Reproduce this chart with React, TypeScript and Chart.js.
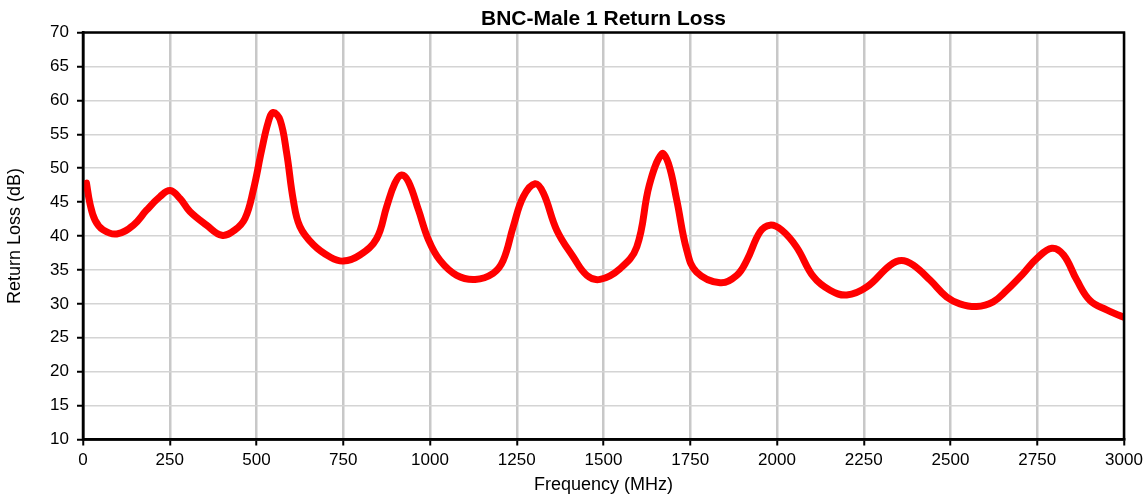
import React, { useEffect, useRef } from "react";
import { Chart, registerables } from "chart.js";

Chart.register(...registerables);

const chartTitle = "BNC-Male 1 Return Loss";
const xTitle = "Frequency (MHz)";
const yTitle = "Return Loss (dB)";

const freqMHz = [
  10, 20, 35, 58, 97, 145, 183, 222, 251, 280, 308, 356, 400, 438, 467, 491,
  515, 534, 548, 568, 587, 606, 625, 664, 712, 750, 798, 846, 875, 899, 918,
  938, 967, 996, 1029, 1077, 1130, 1182, 1211, 1240, 1269, 1303, 1327, 1365,
  1413, 1452, 1490, 1548, 1596, 1632, 1668, 1687, 1711, 1740, 1768,
  1836, 1884, 1913, 1951, 1980, 2013, 2056, 2105, 2153, 2201, 2259,
  2326, 2359, 2393, 2441, 2489, 2527, 2575, 2623, 2662, 2710, 2749, 2792,
  2826, 2864, 2902, 2950, 3000,
];

const returnLossDb = [
  47.8, 44.8, 42.3, 40.9, 40.3, 41.6, 43.8, 45.8, 46.7, 45.5, 43.6, 41.6,
  40.1, 40.9, 42.6, 46.8, 52.7, 56.8, 58.2, 57.1, 52.2, 45.3, 41.4, 38.7,
  36.9, 36.3, 37.2, 39.6, 44.3, 47.8, 49.0, 48.0, 43.8, 39.4, 36.4, 34.2,
  33.6, 34.5, 36.4, 41.4, 45.8, 47.7, 46.3, 40.9, 36.9, 34.2, 33.6, 35.2,
  38.4, 47.5, 52.1, 50.7, 45.3, 37.9, 34.7, 33.1, 34.2, 36.4, 40.6,
  41.6, 40.9, 38.4, 34.0, 32.0, 31.3, 32.5, 35.7, 36.4, 35.7, 33.5,
  31.0, 30.0, 29.6, 30.3, 32.0, 34.5, 36.7, 38.2, 37.2, 33.5, 30.5, 29.1,
  28.0,
];

const xTickMin = 0;
const xTickMax = 3000;
const xTickStep = 250;
const yTickMin = 10;
const yTickMax = 70;
const yTickStep = 5;

const FONT = '"Liberation Sans", Arial, Helvetica, sans-serif';

const frameBorder = {
  id: "frameBorder",
  afterDatasetsDraw(chart: any) {
    const { ctx, chartArea } = chart;
    ctx.save();
    ctx.strokeStyle = "#000";
    ctx.lineWidth = 2.5;
    ctx.strokeRect(
      chartArea.left,
      chartArea.top,
      chartArea.right - chartArea.left,
      chartArea.bottom - chartArea.top
    );
    ctx.restore();
  },
};

export default function App() {
  const ref = useRef<HTMLCanvasElement | null>(null);

  useEffect(() => {
    document.body.style.margin = "0";
    const canvas = ref.current;
    if (!canvas) return;
    const data = freqMHz.map((f, i) => ({ x: f, y: returnLossDb[i] }));
    const chart = new Chart(canvas, {
      type: "line",
      data: {
        datasets: [
          {
            data,
            borderColor: "#ff0000",
            borderWidth: 7,
            pointRadius: 0,
            tension: 0.4,
            borderCapStyle: "round",
            borderJoinStyle: "round",
            fill: false,
          },
        ],
      },
      options: {
        responsive: false,
        animation: false,
        devicePixelRatio: 1,
        layout: { padding: { left: 0, right: 24, top: 0, bottom: 0 } },
        plugins: {
          legend: { display: false },
          tooltip: { enabled: false },
          title: {
            display: true,
            text: chartTitle,
            color: "#000",
            fullSize: false,
            font: { family: FONT, size: 21, weight: "bold" },
            padding: { top: 6.5, bottom: 0.8 },
          },
        },
        scales: {
          x: {
            type: "linear",
            min: xTickMin,
            max: xTickMax,
            afterFit: (s: any) => {
              s.height = 59.5;
            },
            ticks: {
              stepSize: xTickStep,
              color: "#000",
              font: { family: FONT, size: 17 },
              padding: 5,
              maxRotation: 0,
              autoSkip: false,
              callback: (v: any) => String(v),
            },
            grid: {
              color: "rgb(200,200,200)",
              lineWidth: 2.5,
              tickColor: "#000",
              tickLength: 6,
              tickWidth: 2,
            },
            border: { display: true, color: "#000", width: 2.5 },
            title: {
              display: true,
              text: xTitle,
              color: "#000",
              font: { family: FONT, size: 18 },
              padding: { top: 4, bottom: 3 },
            },
          },
          y: {
            type: "linear",
            min: yTickMin,
            max: yTickMax,
            afterFit: (s: any) => {
              s.width = 83;
            },
            ticks: {
              stepSize: yTickStep,
              color: "#000",
              font: { family: FONT, size: 17 },
              padding: 8,
              autoSkip: false,
              callback: (v: any) => String(v),
            },
            grid: {
              color: "rgb(212,212,212)",
              lineWidth: 1.5,
              tickColor: "#000",
              tickLength: 6,
              tickWidth: 2,
            },
            border: { display: true, color: "#000", width: 2.5 },
            title: {
              display: true,
              text: yTitle,
              color: "#000",
              font: { family: FONT, size: 18 },
              padding: { top: 4, bottom: 4 },
            },
          },
        },
      },
      plugins: [frameBorder],
    } as any);
    return () => chart.destroy();
  }, []);

  return (
    <div style={{ width: 1148, height: 499 }}>
      <canvas ref={ref} width={1148} height={499} style={{ display: "block" }} />
    </div>
  );
}
